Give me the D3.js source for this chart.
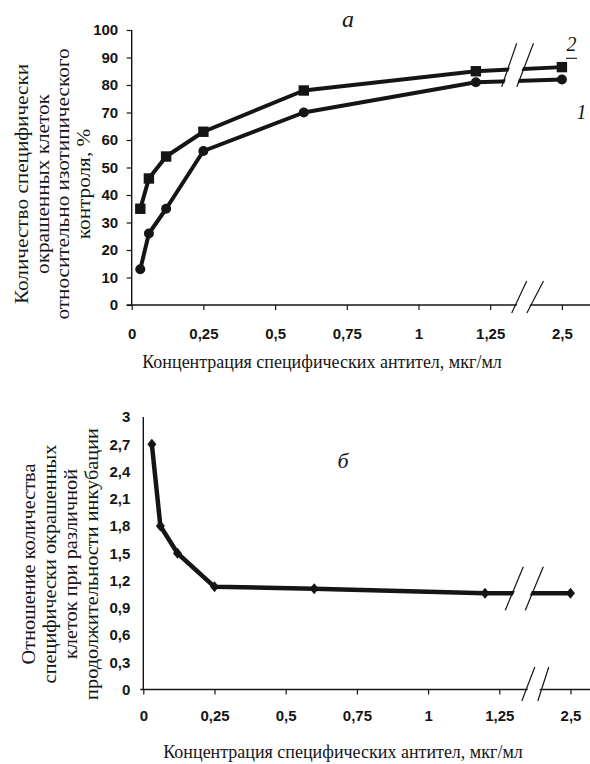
<!DOCTYPE html>
<html><head><meta charset="utf-8">
<script src="https://cdn.jsdelivr.net/npm/d3@7"></script>
<style>body{margin:0;background:#fff}</style></head>
<body>
<svg id="c" width="590" height="764"></svg>
<script>
// ---------- data ----------
const xTickValues = [0, 0.25, 0.5, 0.75, 1, 1.25, 2.5];
const concA = [0.03, 0.06, 0.12, 0.25, 0.6, 1.2, 2.5];
const series1 = [13, 26, 35, 56, 70, 81, 82];        // curve 1 (circles)
const series2 = [35, 46, 54, 63, 78, 85, 86.5];      // curve 2 (squares)
const yTicksA = [0, 10, 20, 30, 40, 50, 60, 70, 80, 90, 100];
const concB = [0.03, 0.06, 0.12, 0.25, 0.6, 1.2, 2.5];
const ratioB = [2.7, 1.8, 1.5, 1.13, 1.11, 1.06, 1.06];
const yTicksB = [0, 0.3, 0.6, 0.9, 1.2, 1.5, 1.8, 2.1, 2.4, 2.7, 3];
const xTitle = "Концентрация специфических антител, мкг/мл";
const yTitleA = ["Количество специфически", "окрашенных клеток", "относительно изотипического", "контроля, %"];
const yTitleB = ["Отношение количества", "специфически окрашенных", "клеток при различной", "продолжительности инкубации"];

// ---------- helpers ----------
const svg = d3.select("#c");
const INK = "#151515";
const fmt = d => String(d).replace(".", ",");
const tickFont = "'Liberation Sans', Arial, sans-serif";
const serif = "'Liberation Serif', 'Times New Roman', serif";

function styleAxis(g) {
  g.select(".domain").remove();
  g.selectAll(".tick line").attr("stroke", INK).attr("stroke-width", 1.2);
  g.selectAll(".tick text").attr("fill", INK).attr("font-family", tickFont)
    .attr("font-weight", "bold").attr("font-size", 15);
}
function slash(g, cx, cy, hw, hh, w) {
  g.append("line").attr("x1", cx - hw).attr("y1", cy + hh).attr("x2", cx + hw).attr("y2", cy - hh)
    .attr("stroke", INK).attr("stroke-width", w || 1.2);
}
function gap(g, c1, c2, cy, hw, hh) {
  g.append("polygon").attr("points", [
    [c1 - hw + 1.5, cy + hh], [c1 + hw + 1.5, cy - hh], [c2 + hw - 1.5, cy - hh], [c2 - hw - 1.5, cy + hh]
  ].map(p => p.join(",")).join(" ")).attr("fill", "#fff");
}

// ================= panel a =================
{
  const x = d3.scaleLinear().domain([0, 1.25, 2.5]).range([131.7, 490.2, 561.9]);
  const y = d3.scaleLinear().domain([0, 100]).range([305, 30]);
  const g = svg.append("g");

  // axes
  g.append("line").attr("x1", x(0)).attr("x2", x(0)).attr("y1", y(100)).attr("y2", y(0))
    .attr("stroke", INK).attr("stroke-width", 1.4);
  g.append("line").attr("x1", x(0) - 5).attr("x2", 590).attr("y1", y(0)).attr("y2", y(0))
    .attr("stroke", INK).attr("stroke-width", 1.4);
  g.append("g").attr("transform", `translate(${x(0)},0)`)
    .call(d3.axisLeft(y).tickValues(yTicksA).tickSize(5).tickPadding(8.5).tickSizeOuter(0).tickFormat(fmt))
    .call(styleAxis);
  g.append("g").attr("transform", `translate(0,${y(0)})`)
    .call(d3.axisBottom(x).tickValues(xTickValues).tickSize(5).tickPadding(18).tickSizeOuter(0).tickFormat(fmt))
    .call(styleAxis);

  // lines
  const line = d3.line().x((d, i) => x(concA[i])).y(d => y(d));
  [series1, series2].forEach(s => {
    g.append("path").attr("d", line(s)).attr("fill", "none").attr("stroke", INK)
      .attr("stroke-width", 4).attr("stroke-linejoin", "round");
  });
  // markers
  g.selectAll(".c1").data(series1).join("circle")
    .attr("cx", (d, i) => x(concA[i])).attr("cy", d => y(d)).attr("r", 5).attr("fill", INK);
  g.selectAll(".s2").data(series2).join("rect")
    .attr("x", (d, i) => x(concA[i]) - 5.2).attr("y", d => y(d) - 5.2)
    .attr("width", 10.4).attr("height", 10.4).attr("fill", INK);

  // break on data lines
  const xb = x(1.25);
  gap(g, xb + 19, xb + 35, 65, 7.5, 21.7);
  slash(g, xb + 19, 65, 7.5, 21.7);
  slash(g, xb + 35, 65, 8.3, 21.7);
  // break on x axis
  gap(g, xb + 29, xb + 45, y(0) - 8, 7.5, 16);
  slash(g, xb + 29, y(0) - 8, 7.5, 16);
  slash(g, xb + 45, y(0) - 8, 8.3, 16);

  // curve labels
  g.append("text").attr("x", 571.5).attr("y", 51).attr("text-anchor", "middle")
    .attr("font-family", serif).attr("font-style", "italic").attr("font-size", 20).attr("fill", INK).text("2");
  g.append("line").attr("x1", 566).attr("x2", 577).attr("y1", 58.3).attr("y2", 58.3)
    .attr("stroke", INK).attr("stroke-width", 1.1);
  g.append("text").attr("x", 581.5).attr("y", 118.5).attr("text-anchor", "middle")
    .attr("font-family", serif).attr("font-style", "italic").attr("font-size", 20).attr("fill", INK).text("1");
  g.append("text").attr("x", 348).attr("y", 27).attr("text-anchor", "middle")
    .attr("font-family", serif).attr("font-style", "italic").attr("font-size", 24).attr("fill", INK).text("а");

  // titles
  g.append("text").attr("x", 322).attr("y", 368).attr("text-anchor", "middle")
    .attr("font-family", serif).attr("font-size", 18).attr("fill", INK).text(xTitle);
  const yt = g.append("text").attr("transform", "translate(0,184) rotate(-90) scale(1.18,1)")
    .attr("text-anchor", "middle").attr("font-family", serif).attr("font-size", 18).attr("fill", INK);
  yTitleA.forEach((t, i) => yt.append("tspan").attr("x", 0).attr("y", 28 + i * 20.7).text(t));
}

// ================= panel b =================
{
  const x = d3.scaleLinear().domain([0, 1.25, 2.5]).range([143.3, 499.3, 570.5]);
  const y = d3.scaleLinear().domain([0, 3]).range([689.5, 417]);
  const g = svg.append("g");

  g.append("line").attr("x1", x(0)).attr("x2", x(0)).attr("y1", y(3)).attr("y2", y(0))
    .attr("stroke", INK).attr("stroke-width", 1.4);
  g.append("line").attr("x1", x(0) - 3).attr("x2", 590).attr("y1", y(0)).attr("y2", y(0))
    .attr("stroke", INK).attr("stroke-width", 1.4);
  g.append("g").attr("transform", `translate(${x(0)},0)`)
    .call(d3.axisLeft(y).tickValues(yTicksB).tickSize(0).tickPadding(13).tickSizeOuter(0).tickFormat(fmt))
    .call(styleAxis);
  g.append("g").attr("transform", `translate(0,${y(0)})`)
    .call(d3.axisBottom(x).tickValues(xTickValues).tickSize(5).tickPadding(15.5).tickSizeOuter(0).tickFormat(fmt))
    .call(styleAxis);

  const line = d3.line().x((d, i) => x(concB[i])).y(d => y(d));
  g.append("path").attr("d", line(ratioB)).attr("fill", "none").attr("stroke", INK)
    .attr("stroke-width", 4.5).attr("stroke-linejoin", "round");
  g.selectAll(".dm").data(ratioB).join("path")
    .attr("transform", (d, i) => `translate(${x(concB[i])},${y(d)})`)
    .attr("d", "M0,-5.5L4.5,0L0,5.5L-4.5,0Z").attr("fill", INK);

  const xb = x(1.25);
  gap(g, xb + 15, xb + 35, 588.5, 9, 21.7);
  slash(g, xb + 15, 588.5, 9, 21.7);
  slash(g, xb + 35, 588.5, 9, 21.7);
  gap(g, xb + 29, xb + 44, y(0) - 5.5, 6.5, 17);
  slash(g, xb + 29, y(0) - 5.5, 6.5, 17);
  slash(g, xb + 44, y(0) - 5.5, 5.5, 17);

  g.append("text").attr("x", 343).attr("y", 468).attr("text-anchor", "middle")
    .attr("font-family", serif).attr("font-style", "italic").attr("font-size", 22).attr("fill", INK).text("б");

  g.append("text").attr("x", 343).attr("y", 758).attr("text-anchor", "middle")
    .attr("font-family", serif).attr("font-size", 18).attr("fill", INK).text(xTitle);
  const yt = g.append("text").attr("transform", "translate(0,564) rotate(-90) scale(1.13,1)")
    .attr("text-anchor", "middle").attr("font-family", serif).attr("font-size", 18).attr("fill", INK);
  yTitleB.forEach((t, i) => yt.append("tspan").attr("x", 0).attr("y", 35 + i * 21).text(t));
}
</script>
</body></html>
